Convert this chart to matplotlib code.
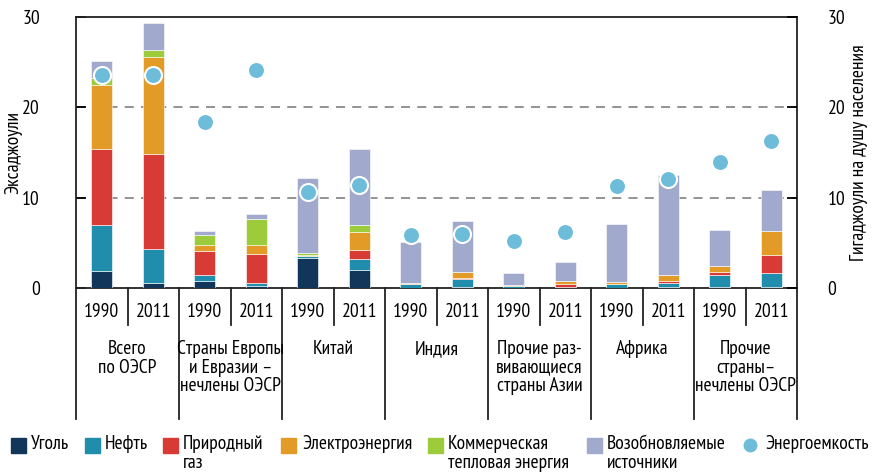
import matplotlib
matplotlib.use("Agg")
import matplotlib.pyplot as plt
from matplotlib.patches import Rectangle
from matplotlib.lines import Line2D
import matplotlib.transforms as mtransforms
import numpy as np

plt.rcParams['font.family'] = ['PT Sans Narrow', 'Roboto Condensed', 'DejaVu Sans']

groups = ["Всего\nпо ОЭСР", "Страны Европы\nи Евразии –\nнечлены ОЭСР", "Китай", "Индия",
          "Прочие раз-\nвивающиеся\nстраны Азии", "Африка", "Прочие\nстраны–\nнечлены ОЭСР"]
years = ["1990", "2011"] * 7

coal        = [1.95, 0.6, 0.85, 0.25, 3.35, 2.05, 0.05, 0.1, 0.05, 0.05, 0.05, 0.1, 0.1, 0.1]
oil         = [5.05, 3.75, 0.6, 0.35, 0.2, 1.2, 0.45, 0.95, 0.2, 0.1, 0.4, 0.5, 1.35, 1.6]
gas         = [8.35, 10.55, 2.7, 3.2, 0.05, 0.95, 0.0, 0.05, 0.0, 0.3, 0.0, 0.2, 0.3, 2.0]
electricity = [7.1, 10.7, 0.6, 0.95, 0.1, 2.05, 0.1, 0.65, 0.12, 0.4, 0.3, 0.65, 0.75, 2.6]
heat        = [0.85, 0.8, 1.15, 2.95, 0.15, 0.7, 0.0, 0.0, 0.0, 0.0, 0.0, 0.05, 0.0, 0.0]
renewables  = [1.8, 2.9, 0.45, 0.5, 8.4, 8.45, 4.55, 5.7, 1.35, 2.1, 6.4, 11.05, 4.0, 4.55]
intensity   = [23.6, 23.6, 18.4, 24.1, 10.7, 11.4, 5.9, 6.0, 5.2, 6.2, 11.3, 12.1, 13.95, 16.3]

series = [("Уголь", coal, "#12365a"),
          ("Нефть", oil, "#1f8dab"),
          ("Природный\nгаз", gas, "#d83a36"),
          ("Электроэнергия", electricity, "#e39b27"),
          ("Коммерческая\nтепловая энергия", heat, "#9ccc3c"),
          ("Возобновляемые\nисточники", renewables, "#a1aacd")]
dot_color = "#6dbcda"
dot_label = "Энергоемкость"

FS = 14
W, H = 873, 476
fig = plt.figure(figsize=(W / 100, H / 100), dpi=100)
x0, x1, y0, y1 = 76, 797, 17, 288.3
ax = fig.add_axes([x0 / W, 1 - y1 / H, (x1 - x0) / W, (y1 - y0) / H])

x = np.arange(len(years))
bottom = np.zeros(len(years))
for name, vals, col in series:
    vals = np.array(vals)
    ax.bar(x, vals, width=0.41, bottom=bottom, color=col, edgecolor="white",
           linewidth=0.4, zorder=3)
    bottom += vals

ax.set_xlim(-0.5, len(years) - 0.5)
ax.set_ylim(0, 30)
ax.set_yticks([0, 10, 20, 30])
for yv in [10, 20]:
    ax.axhline(yv, color="#8a8a8a", lw=1.3, ls=(0, (5, 4)), zorder=1)
ax.set_xticks([])
for s in ax.spines.values():
    s.set_linewidth(1.3)
    s.set_color("#222222")
ax.tick_params(axis='y', direction='in', length=7, width=1.3, labelsize=FS, pad=26)
ax.set_ylabel("Эксаджоули", fontsize=FS)
ax.yaxis.set_label_coords((22 - x0) / (x1 - x0), 0.5)

ax2 = ax.twinx()
ax2.set_ylim(0, 30)
ax2.set_yticks([0, 10, 20, 30])
ax2.tick_params(axis='y', direction='in', length=7, width=1.3, labelsize=FS, pad=22)
ax2.set_ylabel("Гигаджоули на душу населения", fontsize=FS)
ax2.yaxis.set_label_coords((850 - x0) / (x1 - x0), 0.5)
for s in ax2.spines.values():
    s.set_visible(False)
ax2.scatter(x, intensity, s=150, color=dot_color, edgecolor="white", linewidth=1.5, zorder=5)

# bottom category axis
trans = mtransforms.blended_transform_factory(ax.transData, ax.transAxes)
h = y1 - y0
def ay(py):
    return (y1 - py) / h
for i in range(len(years) + 1):
    xv = i - 0.5
    if i % 2 == 0:
        ax.plot([xv, xv], [0, ay(419)], transform=trans, color="#222222", lw=1.3, clip_on=False)
    else:
        ax.plot([xv, xv], [0, ay(325)], transform=trans, color="#222222", lw=1.3, clip_on=False)
for i, yr in enumerate(years):
    ax.text(i, ay(312), yr, transform=trans, ha="center", va="center", fontsize=FS)
for g, name in enumerate(groups):
    ax.text(2 * g + 0.5, ay(340), name, transform=trans, ha="center", va="top",
            fontsize=FS, linespacing=1.05)

# legend (manual)
leg_sq_x = [11, 85, 163, 281, 428, 587]
leg_tx_x = [31, 105, 183, 302, 448, 607]
sq = 15
ly = 445
for (name, vals, col), sx, tx in zip(series, leg_sq_x, leg_tx_x):
    fig.patches.append(Rectangle((sx / W, 1 - (ly + sq / 2) / H), sq / W, sq / H,
                                 transform=fig.transFigure, color=col))
    fig.text(tx / W, 1 - (ly - 10) / H, name, ha="left", va="top", fontsize=FS, linespacing=1.05)
fig.add_artist(Line2D([750 / W], [1 - ly / H], marker="o", markersize=9, color=dot_color,
                      transform=fig.transFigure))
fig.text(765 / W, 1 - (ly - 10) / H, dot_label, ha="left", va="top", fontsize=FS)

fig.savefig("out.png", dpi=100)
